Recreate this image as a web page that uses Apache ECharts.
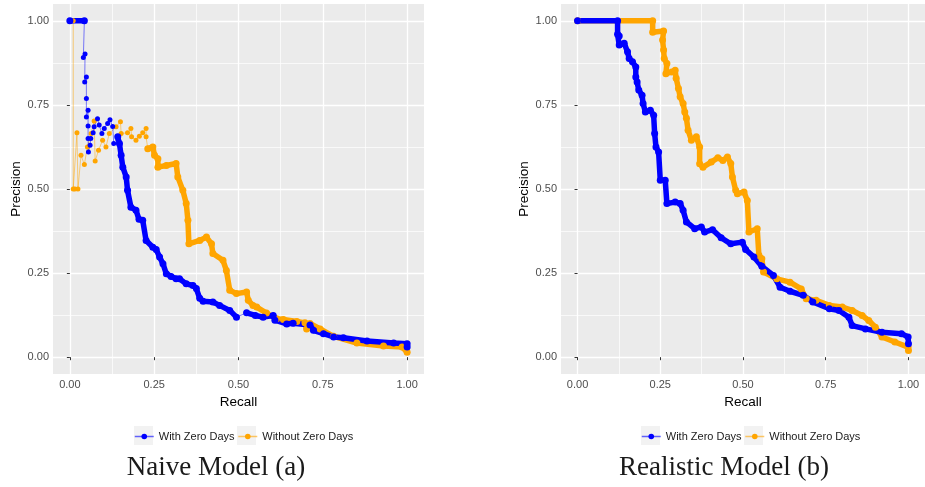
<!DOCTYPE html>
<html>
<head>
<meta charset="utf-8">
<script src="https://cdn.jsdelivr.net/npm/echarts@6/dist/echarts.min.js"></script>
<style>
  html, body { margin: 0; padding: 0; background: #fff; }
  #chart { width: 925px; height: 487px; }
</style>
</head>
<body>
<div id="chart"></div>
<script>
const seriesNames = ['With Zero Days', 'Without Zero Days'];
const majorTicks = [0, 0.25, 0.5, 0.75, 1];
const minorTicks = [0.125, 0.375, 0.625, 0.875];
const captions = ['Naive Model (a)', 'Realistic Model (b)'];

// Naive model - with zero days
const naiveWithHead = [[0.0, 1.0], [0.043, 1.0]];
const naiveWithSpike = [
  [0.043, 1.0], [0.04, 0.891], [0.045, 0.901], [0.044, 0.818], [0.049, 0.833], [0.049, 0.769],
  [0.049, 0.714], [0.054, 0.734], [0.054, 0.687], [0.054, 0.65], [0.055, 0.61], [0.06, 0.63],
  [0.062, 0.65], [0.069, 0.667], [0.072, 0.685], [0.082, 0.709], [0.087, 0.69], [0.095, 0.665],
  [0.102, 0.68], [0.112, 0.695], [0.119, 0.706], [0.127, 0.686], [0.13, 0.635], [0.142, 0.655]
];
const naiveWithBody = [
  [0.142, 0.655], [0.147, 0.635], [0.152, 0.6], [0.157, 0.565], [0.167, 0.536], [0.171, 0.496],
  [0.181, 0.446], [0.196, 0.437], [0.205, 0.41], [0.216, 0.407], [0.226, 0.347], [0.246, 0.327],
  [0.256, 0.32], [0.266, 0.298], [0.276, 0.278], [0.286, 0.248], [0.3, 0.24], [0.315, 0.233],
  [0.325, 0.233], [0.345, 0.218], [0.365, 0.213], [0.375, 0.204], [0.385, 0.175], [0.395, 0.166],
  [0.424, 0.164], [0.444, 0.154], [0.474, 0.139], [0.494, 0.119]
];
const naiveWithTail = [
  [0.524, 0.132], [0.55, 0.124], [0.573, 0.119], [0.603, 0.124], [0.608, 0.11], [0.643, 0.099],
  [0.662, 0.101], [0.712, 0.096], [0.722, 0.08], [0.752, 0.07], [0.782, 0.06], [0.811, 0.058],
  [0.881, 0.048], [0.96, 0.042], [1.0, 0.04], [1.0, 0.03]
];

// Naive model - without zero days
const naiveWithoutSpike = [
  [0.01, 1.0], [0.01, 0.5], [0.015, 0.5], [0.021, 0.667], [0.024, 0.5], [0.033, 0.6],
  [0.043, 0.573], [0.052, 0.625], [0.063, 0.665], [0.072, 0.702], [0.075, 0.583], [0.085, 0.615],
  [0.097, 0.645], [0.107, 0.625], [0.117, 0.665], [0.137, 0.685], [0.15, 0.7], [0.152, 0.665],
  [0.171, 0.667], [0.181, 0.68], [0.183, 0.655], [0.196, 0.645], [0.206, 0.657], [0.216, 0.667],
  [0.226, 0.68], [0.226, 0.655], [0.231, 0.62]
];
const naiveWithoutBody = [
  [0.231, 0.62], [0.246, 0.625], [0.251, 0.6], [0.261, 0.59], [0.261, 0.565], [0.286, 0.57],
  [0.315, 0.576], [0.32, 0.536], [0.335, 0.496], [0.345, 0.457], [0.35, 0.407], [0.353, 0.337],
  [0.385, 0.347], [0.405, 0.357], [0.42, 0.337], [0.424, 0.308], [0.454, 0.288], [0.464, 0.258],
  [0.474, 0.199], [0.494, 0.189], [0.524, 0.194], [0.529, 0.169], [0.543, 0.154], [0.554, 0.149],
  [0.583, 0.131], [0.613, 0.114], [0.633, 0.112], [0.673, 0.106], [0.697, 0.102], [0.702, 0.084],
  [0.712, 0.1], [0.742, 0.084], [0.782, 0.062], [0.851, 0.042], [0.93, 0.033], [0.985, 0.03],
  [1.0, 0.015]
];

// Realistic model - with zero days
const realWithBody = [
  [0.0, 1.0], [0.121, 1.0], [0.121, 0.96], [0.126, 0.955], [0.126, 0.928], [0.141, 0.933],
  [0.151, 0.908], [0.156, 0.888], [0.166, 0.878], [0.176, 0.863], [0.176, 0.833], [0.18, 0.818],
  [0.185, 0.794], [0.195, 0.779], [0.198, 0.754], [0.205, 0.729], [0.22, 0.734], [0.23, 0.719],
  [0.233, 0.665], [0.237, 0.625], [0.245, 0.61], [0.25, 0.526], [0.265, 0.526], [0.27, 0.457],
  [0.295, 0.461], [0.31, 0.457], [0.319, 0.437], [0.329, 0.402], [0.354, 0.382], [0.374, 0.387],
  [0.384, 0.372], [0.408, 0.379], [0.434, 0.355], [0.463, 0.337], [0.498, 0.342], [0.508, 0.32],
  [0.533, 0.298], [0.557, 0.27], [0.592, 0.243], [0.612, 0.208], [0.642, 0.196], [0.682, 0.184],
  [0.711, 0.164], [0.761, 0.144], [0.79, 0.139], [0.82, 0.119], [0.83, 0.094], [0.87, 0.084],
  [0.92, 0.074], [0.979, 0.07], [0.999, 0.06], [1.0, 0.04]
];

// Realistic model - without zero days
const realWithoutBody = [
  [0.0, 1.0], [0.227, 1.0], [0.227, 0.966], [0.26, 0.97], [0.257, 0.943], [0.26, 0.913],
  [0.262, 0.888], [0.27, 0.873], [0.267, 0.843], [0.285, 0.848], [0.295, 0.853], [0.298, 0.829],
  [0.305, 0.799], [0.31, 0.774], [0.319, 0.754], [0.324, 0.729], [0.329, 0.71], [0.334, 0.675],
  [0.344, 0.645], [0.359, 0.655], [0.369, 0.625], [0.369, 0.575], [0.379, 0.565], [0.404, 0.58],
  [0.424, 0.593], [0.439, 0.585], [0.453, 0.595], [0.463, 0.576], [0.468, 0.536], [0.478, 0.496],
  [0.483, 0.486], [0.503, 0.491], [0.513, 0.466], [0.518, 0.372], [0.543, 0.382], [0.548, 0.303],
  [0.557, 0.293], [0.562, 0.253], [0.602, 0.233], [0.642, 0.223], [0.676, 0.203], [0.691, 0.174],
  [0.721, 0.169], [0.761, 0.154], [0.8, 0.149], [0.83, 0.139], [0.86, 0.124], [0.88, 0.109],
  [0.9, 0.089], [0.92, 0.06], [0.959, 0.045], [0.999, 0.03], [1.0, 0.02]
];

const BLUE = '#0000FF';
const ORANGE = '#FFA500';
const FONT = 'Liberation Sans';

// join several runs of points, breaking the line between them
function joinRuns(runs) {
  const out = [];
  runs.forEach((r, i) => {
    if (i > 0) out.push(['-', '-']);
    r.forEach(p => out.push(p));
  });
  return out;
}

function curve(name, color, axisIdx, thickRuns, thinRuns) {
  const out = [];
  if (thinRuns.length) {
    out.push({
      type: 'line', name, xAxisIndex: axisIdx, yAxisIndex: axisIdx,
      data: joinRuns(thinRuns),
      symbol: 'circle', symbolSize: 5,
      itemStyle: { color },
      lineStyle: { color, width: 1, opacity: 0.5 },
      silent: true
    });
  }
  out.push({
    type: 'line', name, xAxisIndex: axisIdx, yAxisIndex: axisIdx,
    data: joinRuns(thickRuns),
    symbol: 'circle', symbolSize: 7,
    itemStyle: { color },
    lineStyle: { color, width: 5.5, join: 'round', cap: 'round' },
    silent: true
  });
  return out;
}

function axis(gridIndex, major, isX) {
  return {
    type: 'value', gridIndex, min: -0.05, max: 1.05,
    position: isX ? 'bottom' : 'left',
    axisLine: { show: false },
    axisTick: {
      show: major, customValues: major ? majorTicks : minorTicks,
      length: 3, lineStyle: { color: '#333333', width: 1 }
    },
    axisLabel: {
      show: major, customValues: majorTicks,
      formatter: v => v.toFixed(2),
      color: '#4D4D4D', fontSize: 11, fontFamily: FONT, margin: isX ? 5 : 4
    },
    splitLine: { show: true, lineStyle: { color: '#FFFFFF', width: major ? 1.3 : 0.7 } },
    name: major ? (isX ? 'Recall' : 'Precision') : '',
    nameLocation: 'middle',
    nameGap: isX ? 20 : 30,
    nameTextStyle: { color: '#000', fontSize: 13.5, fontFamily: FONT }
  };
}

const chart = echarts.init(document.getElementById('chart'));

const series = [].concat(
  curve(seriesNames[1], ORANGE, 0, [naiveWithoutBody], [naiveWithoutSpike]),
  curve(seriesNames[0], BLUE, 0, [naiveWithHead, naiveWithBody, naiveWithTail],
    [naiveWithSpike, [naiveWithBody[naiveWithBody.length - 1], naiveWithTail[0]]]),
  curve(seriesNames[1], ORANGE, 2, [realWithoutBody], []),
  curve(seriesNames[0], BLUE, 2, [realWithBody], [])
);

function legend(left) {
  return {
    data: seriesNames, left, top: 431, orient: 'horizontal', padding: 0,
    itemWidth: 19, itemHeight: 7, itemGap: 3,
    textStyle: { fontSize: 11, color: '#1A1A1A', fontFamily: FONT },
    lineStyle: { width: 1.5, opacity: 0.6 },
    selectedMode: false
  };
}

const keyBoxes = [134, 237, 641, 744];

chart.setOption({
  animation: false,
  grid: [
    { left: 53, top: 4, width: 371, height: 370, show: true, backgroundColor: '#EBEBEB', borderWidth: 0 },
    { left: 561, top: 4, width: 370, height: 370, show: true, backgroundColor: '#EBEBEB', borderWidth: 0 }
  ],
  xAxis: [axis(0, true, true), axis(0, false, true), axis(1, true, true), axis(1, false, true)],
  yAxis: [axis(0, true, false), axis(0, false, false), axis(1, true, false), axis(1, false, false)],
  legend: [legend(134), legend(641)],
  series,
  graphic: keyBoxes.map(x => ({
    type: 'rect', left: x, top: 426, z: -10,
    shape: { width: 19, height: 19 }, style: { fill: '#F2F2F2' }
  })).concat([
    { type: 'text', x: 216, y: 468, style: { text: captions[0], font: '27px "Liberation Serif"', fill: '#1A1A1A', align: 'center', verticalAlign: 'middle' } },
    { type: 'text', x: 724, y: 468, style: { text: captions[1], font: '27px "Liberation Serif"', fill: '#1A1A1A', align: 'center', verticalAlign: 'middle' } }
  ])
});
</script>
</body>
</html>
